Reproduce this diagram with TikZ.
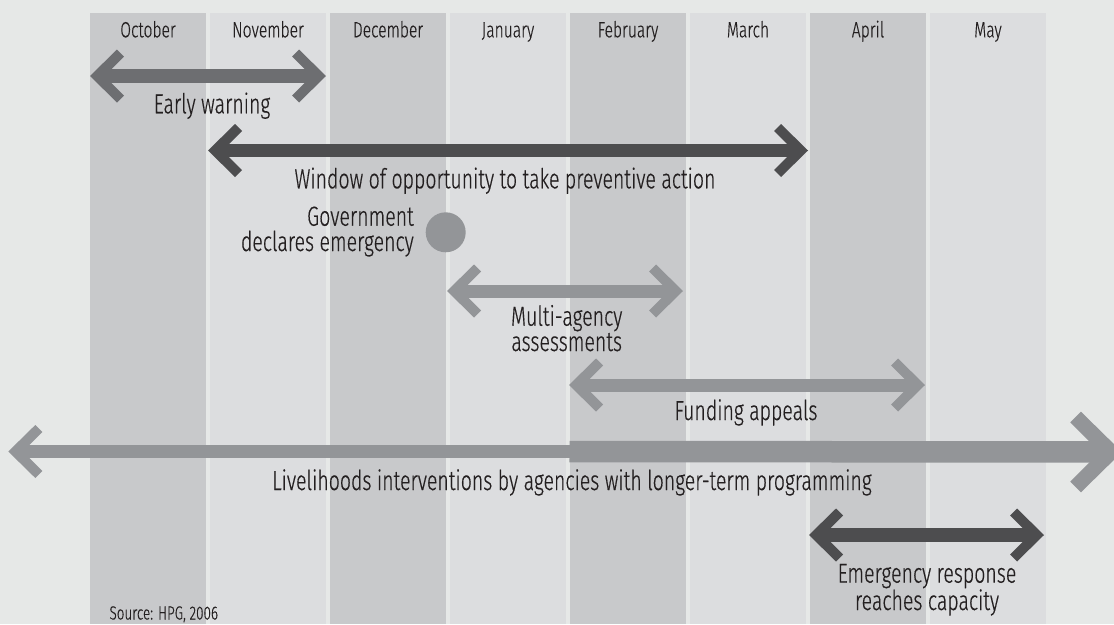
\documentclass[tikz,border=0pt]{standalone}
\usepackage{fontspec}
\setmainfont{Fira Sans Light}[FakeStretch=0.71, FakeBold=0.4]
\definecolor{bg}{HTML}{E6E8E7}
\definecolor{colA}{HTML}{C8C9CB}
\definecolor{colB}{HTML}{DCDDDF}
\definecolor{darkarr}{HTML}{4D4D4F}
\definecolor{midarr}{HTML}{6D6E71}
\definecolor{lightarr}{HTML}{939598}
\definecolor{txt}{HTML}{231F20}
\tikzset{
  chev/.pic={\fill (0,0) -- (27,-26.5) -- (34,-19.5) -- (14.5,0) -- (34,19.5) -- (27,26.5) -- cycle;},
  lbl/.style={font=\fontsize{27.5}{25.3}\selectfont, text=txt, inner sep=0pt, align=center},
  month/.style={font=\fontsize{22}{24}\selectfont, text=txt, inner sep=0pt, anchor=base},
  shaft/.style={line cap=butt, line width=#1},
}
\begin{document}
\begin{tikzpicture}[x=1pt,y=-1pt]
\useasboundingbox (0,0) rectangle (1114,624);
\clip (0,0) rectangle (1114,624);
\fill[bg] (0,0) rectangle (1114,624);
% columns
\foreach \i/\c in {0/colA,1/colB,2/colA,3/colB,4/colA,5/colB,6/colA,7/colB}{
  \fill[\c] (90+120*\i,13) rectangle (206+120*\i,624);
}
% month labels
\node[month] (m1) at (148,37.3) {October};
\node[month] (m2) at (268,37.3) {November};
\node[month] (m3) at (388,37.3) {December};
\node[month] (m4) at (508,37.3) {January};
\node[month] (m5) at (628,37.3) {February};
\node[month] (m6) at (748,37.3) {March};
\node[month] (m7) at (868,37.3) {April};
\node[month] (m8) at (988,37.3) {May};

% Early warning
\coordinate (ewL) at (90,76);
\coordinate (ewR) at (326,76);
\draw[midarr, shaft=14pt] ([xshift=10pt]ewL) -- ([xshift=-10pt]ewR);
\pic[fill=midarr] at (ewL) {chev};
\pic[fill=midarr, xscale=-1] at (ewR) {chev};
\node[lbl, anchor=base] (ew) at (212,113.3) {Early warning};

% Window of opportunity
\coordinate (wiL) at (208,150.5);
\coordinate (wiR) at (808,150.5);
\draw[darkarr, shaft=13pt] ([xshift=10pt]wiL) -- ([xshift=-10pt]wiR);
\pic[fill=darkarr] at (wiL) {chev};
\pic[fill=darkarr, xscale=-1] at (wiR) {chev};
\node[lbl, anchor=base] (wi) at (505,188.3) {Window of opportunity to take preventive action};

% Government declares emergency
\coordinate (gov) at (445.7,232.3);
\fill[lightarr] (gov) circle[radius=20];
\node[lbl, align=right, anchor=base east] (govt) at (414,251) {Government\\declares emergency};

% Multi-agency assessments
\coordinate (maL) at (447,291);
\coordinate (maR) at (683,291);
\draw[lightarr, shaft=13pt] ([xshift=10pt]maL) -- ([xshift=-10pt]maR);
\pic[fill=lightarr] at (maL) {chev};
\pic[fill=lightarr, xscale=-1] at (maR) {chev};
\node[lbl, anchor=base] (ma) at (566.7,351) {Multi-agency\\assessments};

% Funding appeals
\coordinate (faL) at (569,385);
\coordinate (faR) at (925,385);
\draw[lightarr, shaft=13pt] ([xshift=10pt]faL) -- ([xshift=-10pt]faR);
\pic[fill=lightarr] at (faL) {chev};
\pic[fill=lightarr, xscale=-1] at (faR) {chev};
\node[lbl, anchor=base] (fa) at (746,420) {Funding appeals};

% Livelihoods
\coordinate (liL) at (8.3,451.5);
\coordinate (liM) at (570,451.5);
\coordinate (liR) at (1122,452);
\draw[lightarr, shaft=13pt] ([xshift=10pt]liL) -- (liM);
\draw[lightarr, shaft=21.5pt] ([xshift=-0.5pt]liM) -- ([xshift=-15pt]liR);
\pic[fill=lightarr] at (liL) {chev};
\pic[fill=lightarr, xscale=-1.52, yscale=1.52] at (liR) {chev};
\node[lbl, anchor=base] (li) at (572,490) {Livelihoods interventions by agencies with longer-term programming};

% Emergency response
\coordinate (erL) at (809,535);
\coordinate (erR) at (1044,535);
\draw[darkarr, shaft=14pt] ([xshift=10pt]erL) -- ([xshift=-10pt]erR);
\pic[fill=darkarr] at (erL) {chev};
\pic[fill=darkarr, xscale=-1] at (erR) {chev};
\node[lbl, anchor=base] (er) at (927,610) {Emergency response\\reaches capacity};

% Source
\node[font=\fontsize{19}{20}\selectfont, text=txt, inner sep=0pt, anchor=base west] (src) at (109.3,619.5) {Source: HPG, 2006};
\end{tikzpicture}
\end{document}
